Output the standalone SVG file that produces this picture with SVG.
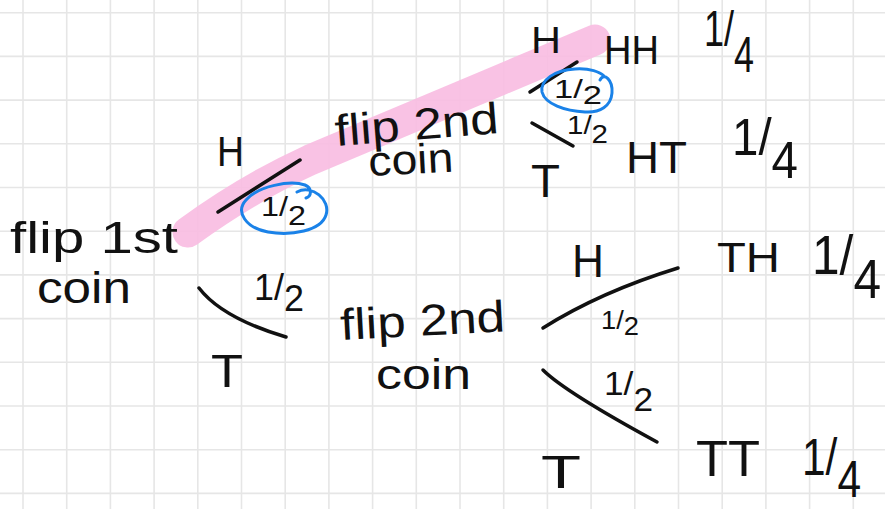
<svg xmlns="http://www.w3.org/2000/svg" width="885" height="509" viewBox="0 0 885 509">
<defs>
<style>
.grid line{stroke:#e6e6e6;stroke-width:1.6}
.t{font-family:"Liberation Sans","Noto Sans",sans-serif;fill:#111}
.ln{stroke:#111;stroke-width:3.5;fill:none;stroke-linecap:round;stroke-linejoin:round}
.hl{stroke:#f8bde2;stroke-width:31;fill:none;stroke-linecap:round;opacity:0.92}
.ring{stroke:#1a82e8;stroke-width:3;fill:none;stroke-linecap:round}
</style>
</defs>
<rect width="885" height="509" fill="#fff"/>
<g class="grid">
<line x1="23" y1="0" x2="23" y2="509"/><line x1="66.7" y1="0" x2="66.7" y2="509"/><line x1="110.4" y1="0" x2="110.4" y2="509"/><line x1="154.1" y1="0" x2="154.1" y2="509"/><line x1="197.8" y1="0" x2="197.8" y2="509"/><line x1="241.5" y1="0" x2="241.5" y2="509"/><line x1="285.2" y1="0" x2="285.2" y2="509"/><line x1="328.9" y1="0" x2="328.9" y2="509"/><line x1="372.6" y1="0" x2="372.6" y2="509"/><line x1="416.3" y1="0" x2="416.3" y2="509"/><line x1="460" y1="0" x2="460" y2="509"/><line x1="503.7" y1="0" x2="503.7" y2="509"/><line x1="547.4" y1="0" x2="547.4" y2="509"/><line x1="591.1" y1="0" x2="591.1" y2="509"/><line x1="634.8" y1="0" x2="634.8" y2="509"/><line x1="678.5" y1="0" x2="678.5" y2="509"/><line x1="722.2" y1="0" x2="722.2" y2="509"/><line x1="765.9" y1="0" x2="765.9" y2="509"/><line x1="809.6" y1="0" x2="809.6" y2="509"/><line x1="853.3" y1="0" x2="853.3" y2="509"/>
<line x1="0" y1="12.7" x2="885" y2="12.7"/><line x1="0" y1="56.4" x2="885" y2="56.4"/><line x1="0" y1="100.1" x2="885" y2="100.1"/><line x1="0" y1="143.8" x2="885" y2="143.8"/><line x1="0" y1="187.5" x2="885" y2="187.5"/><line x1="0" y1="231.2" x2="885" y2="231.2"/><line x1="0" y1="274.9" x2="885" y2="274.9"/><line x1="0" y1="318.6" x2="885" y2="318.6"/><line x1="0" y1="362.3" x2="885" y2="362.3"/><line x1="0" y1="406" x2="885" y2="406"/><line x1="0" y1="449.7" x2="885" y2="449.7"/><line x1="0" y1="493.4" x2="885" y2="493.4"/>
</g>
<g id="highlight">
<path class="hl" d="M188,232 C225,205 262,182 310,160 C400,122 500,80 595,40"/>
</g>
<g id="connectors">
<path class="ln" d="M218,212 L300,160"/>
<path class="ln" d="M199,288 Q222,318 286,337"/>
<path class="ln" d="M530,92 L577,62"/>
<path class="ln" d="M532,123 L573,146"/>
<path class="ln" d="M543,328 Q600,292 678,268"/>
<path class="ln" d="M543,370 Q565,392 657,442"/>
<text class="t" x="217" y="166" font-size="42" textLength="27" lengthAdjust="spacingAndGlyphs">H</text>
<text class="t" x="211" y="387" font-size="46" textLength="32" lengthAdjust="spacingAndGlyphs">T</text>
<text class="t" x="531" y="53" font-size="37" textLength="30" lengthAdjust="spacingAndGlyphs">H</text>
<text class="t" x="531" y="197" font-size="46" textLength="29" lengthAdjust="spacingAndGlyphs">T</text>
<text class="t" x="572" y="277" font-size="46" textLength="32" lengthAdjust="spacingAndGlyphs">H</text>
<text class="t" x="541" y="488" font-size="46" textLength="40" lengthAdjust="spacingAndGlyphs">T</text>
<text class="t" x="261" y="216 216 225" font-size="28" textLength="45" lengthAdjust="spacingAndGlyphs">1/2</text>
<text class="t" x="254" y="300 300 311" font-size="36" textLength="50" lengthAdjust="spacingAndGlyphs">1/2</text>
<text class="t" x="554" y="98 98 104" font-size="26" textLength="48" lengthAdjust="spacingAndGlyphs">1/2</text>
<text class="t" x="567" y="134 134 143" font-size="26" textLength="41" lengthAdjust="spacingAndGlyphs">1/2</text>
<text class="t" x="601" y="329 329 335" font-size="26" textLength="38" lengthAdjust="spacingAndGlyphs">1/2</text>
<text class="t" x="604" y="395 395 411" font-size="34" textLength="49" lengthAdjust="spacingAndGlyphs">1/2</text>
</g>
<g id="rings">
<path class="ring" d="M297,192 C312,184 331,200 326,215 C321,231 291,236 268,232 C246,228 235,212 246,200 C258,186 290,180 305,185 C312,188 312,196 306,198"/>
<path class="ring" d="M600,80 C604,72 613,80 612,93 C611,106 600,113 585,112 C565,111 545,104 542,92 C540,80 555,70 575,69 C590,68 600,72 604,76"/>
</g>
<g id="node-flip1">
<text class="t" x="10" y="253" font-size="45" textLength="168" lengthAdjust="spacingAndGlyphs">flip 1st</text>
<text class="t" x="37" y="303" font-size="44" textLength="94" lengthAdjust="spacingAndGlyphs">coin</text>
</g>
<g id="node-flip2-top">
<text class="t" x="336" y="146" font-size="44" textLength="164" lengthAdjust="spacingAndGlyphs" transform="rotate(-4.5 336 146)">flip 2nd</text>
<text class="t" x="369" y="176" font-size="42" textLength="85" lengthAdjust="spacingAndGlyphs" transform="rotate(-3 369 176)">coin</text>
</g>
<g id="node-flip2-bottom">
<text class="t" x="341" y="340" font-size="44" textLength="165" lengthAdjust="spacingAndGlyphs" transform="rotate(-3 341 340)">flip 2nd</text>
<text class="t" x="376" y="389" font-size="42" textLength="95" lengthAdjust="spacingAndGlyphs">coin</text>
</g>
<g id="node-HH">
<text class="t" x="604" y="64" font-size="40" textLength="55" lengthAdjust="spacingAndGlyphs">HH</text>
<text class="t" x="704" y="46 46 72" font-size="50" textLength="50" lengthAdjust="spacingAndGlyphs">1/4</text>
</g>
<g id="node-HT">
<text class="t" x="626" y="173" font-size="44" textLength="61" lengthAdjust="spacingAndGlyphs">HT</text>
<text class="t" x="732" y="155 155 178" font-size="52" textLength="66" lengthAdjust="spacingAndGlyphs">1/4</text>
</g>
<g id="node-TH">
<text class="t" x="717" y="272" font-size="42" textLength="63" lengthAdjust="spacingAndGlyphs">TH</text>
<text class="t" x="812" y="274 274 298" font-size="56" textLength="69" lengthAdjust="spacingAndGlyphs">1/4</text>
</g>
<g id="node-TT">
<text class="t" x="696" y="476" font-size="50" textLength="64" lengthAdjust="spacingAndGlyphs">TT</text>
<text class="t" x="802" y="475 475 497" font-size="52" textLength="59" lengthAdjust="spacingAndGlyphs">1/4</text>
</g>
</svg>
